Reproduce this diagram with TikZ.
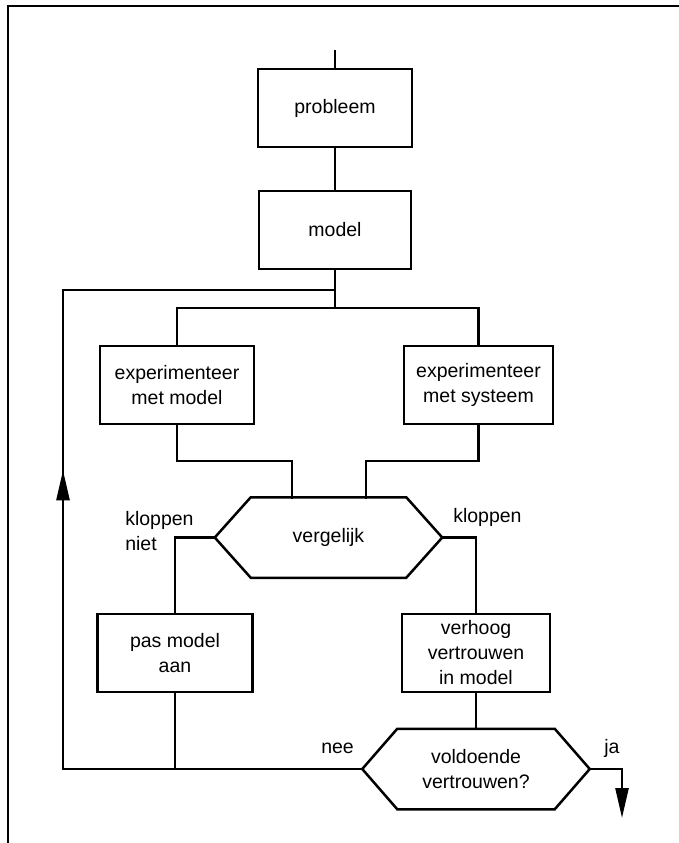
\documentclass[tikz,border=0pt]{standalone}
\usepackage{fontspec}
\setmainfont{Liberation Sans}
\usetikzlibrary{arrows.meta,decorations.markings}
\begin{document}
\begin{tikzpicture}[x=1pt,y=-1pt,
  line width=2.5pt,
  every node/.style={font=\fontsize{19.5}{25}\selectfont, inner sep=0pt},
  box/.style={draw, rectangle, align=center, minimum width=#1, minimum height=78pt},
  hexbase/.style={rectangle, align=center, minimum width=225pt, minimum height=78pt},
  lbl/.style={anchor=west, align=left},
  tip/.style={-{Triangle[length=30pt,width=13pt]}}
]
\useasboundingbox (0,0) rectangle (679,843);
% frame
\draw[line width=2.6pt] (8,843) -- (8,6) -- (679,6);

% nodes
\coordinate (start) at (335,50);
\node[box=154pt] (prob) at (335,108) {probleem};
\node[box=152pt] (model) at (335,230) {model};
\node[box=154pt] (expm) at (177,385) {experimenteer\\met model};
\node[box=149pt] (exps) at (478.5,385) {experimenteer\\met systeem};
\node[hexbase] (verg) at (328.5,537.5) {vergelijk};
\node[box=155pt] (pas) at (175,653) {pas model\\aan};
\node[box=148pt] (verh) at (476,653) {verhoog\\vertrouwen\\in model};
\node[hexbase] (vold) at (476,769) {voldoende\\vertrouwen?};

% hexagon outlines
\draw ([xshift=36pt]verg.north west) -- ([xshift=-36pt]verg.north east) -- (verg.east)
   -- ([xshift=-36pt]verg.south east) -- ([xshift=36pt]verg.south west) -- (verg.west) -- cycle;
\draw ([xshift=35pt]vold.north west) -- ([xshift=-35pt]vold.north east) -- (vold.east)
   -- ([xshift=-35pt]vold.south east) -- ([xshift=35pt]vold.south west) -- (vold.west) -- cycle;

% connectors
\coordinate (split) at (335,308);
\coordinate (loopjoin) at (335,290);
\draw (start) -- (prob.north);
\draw (prob.south) -- (model.north);
\draw (model.south) -- (split);
\draw (expm.north) |- (split) -| (exps.north);
\draw (expm.south) |- (292,461) -- (292,499);
\draw (exps.south) |- (366,461) -- (366,499);
\draw (verg.west) -| (pas.north);
\draw (verg.east) -| (verh.north);
\draw (verh.south) -- (vold.north);
\coordinate (joinbottom) at (175,769);
\draw (pas.south) -- (joinbottom);
\coordinate (loopbl) at (63,769);
\coordinate (looptl) at (63,290);
\draw[postaction={decorate},
  decoration={markings, mark=at position 598pt with {\arrow{Triangle[length=30pt,width=13pt]}}}]
  (vold.west) -- (loopbl) -- (looptl) -- (loopjoin);
\coordinate (out) at (622,818);
\draw[tip] (vold.east) -| (out);

% labels
\node[lbl] (kn) at (124,531) {kloppen\\niet};
\node[lbl] (kj) at (452,517) {kloppen};
\node[lbl] (nee) at (320,748) {nee};
\node[lbl] (ja) at (603,748) {ja};
\end{tikzpicture}
\end{document}
